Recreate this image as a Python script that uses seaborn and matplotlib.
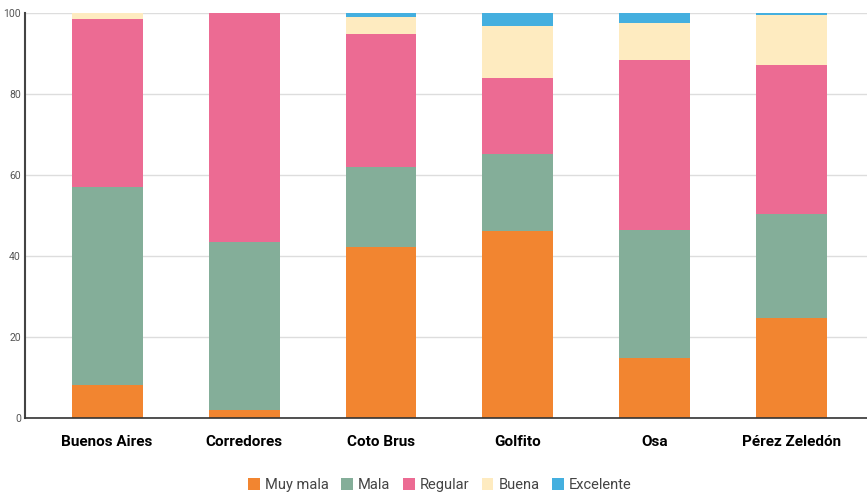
import numpy as np
import pandas as pd
import seaborn as sns
import matplotlib.pyplot as plt
from matplotlib.patches import Patch

# Values (percent per canton)
cantones = ["Buenos Aires", "Corredores", "Coto Brus", "Golfito", "Osa", "Pérez Zeledón"]
muy_mala = [8.1, 2.0, 42.2, 46.2, 14.9, 24.8]
mala = [48.9, 41.5, 19.8, 19.1, 31.6, 25.6]
regular = [41.5, 56.5, 32.8, 18.7, 41.9, 36.8]
buena = [1.5, 0.0, 4.2, 12.8, 9.1, 12.3]
excelente = [0.0, 0.0, 1.0, 3.2, 2.5, 0.5]

series_names = ["Muy mala", "Mala", "Regular", "Buena", "Excelente"]
series_vals = [muy_mala, mala, regular, buena, excelente]
colors = ["#F28530", "#84AE99", "#EC6B93", "#FEEBC0", "#44AFDF"]

sns.set_theme(style="white")
plt.rcParams["font.family"] = ["Roboto", "DejaVu Sans"]

# cumulative tops, drawn from the top layer down so each bar covers the one below
cum = np.cumsum(np.array(series_vals), axis=0)

fig = plt.figure(figsize=(8.67, 4.95), dpi=100)
ax = fig.add_axes([25 / 867, 1 - 418 / 495, 1 - 25 / 867, (418 - 13) / 495])

for i in range(len(series_names) - 1, -1, -1):
    df = pd.DataFrame({"canton": cantones, "valor": cum[i]})
    sns.barplot(data=df, x="canton", y="valor", color=colors[i], width=0.518,
                saturation=1, ax=ax, zorder=2, edgecolor="none", linewidth=0)

ax.set_xlim(-0.6, 5.55)
ax.set_ylim(0, 100)
ax.set_yticks([0, 20, 40, 60, 80, 100])
ax.yaxis.grid(True, color="#dddddd", linewidth=1, zorder=0)
ax.set_axisbelow(True)
ax.set_xlabel("")
ax.set_ylabel("")

for s in ["top", "right"]:
    ax.spines[s].set_visible(False)
ax.spines["left"].set_color("#444444")
ax.spines["left"].set_linewidth(1.5)
ax.spines["bottom"].set_color("#333333")
ax.spines["bottom"].set_linewidth(1.2)

ax.tick_params(axis="y", length=0, labelsize=7.5, labelcolor="#555555", pad=3)
ax.tick_params(axis="x", length=0, labelsize=11, labelcolor="black", pad=12)
for lbl in ax.get_xticklabels():
    lbl.set_fontweight("bold")

handles = [Patch(facecolor=c, edgecolor="none", label=n) for n, c in zip(series_names, colors)]
fig.legend(handles=handles, loc="center", bbox_to_anchor=(440 / 867, 1 - 485 / 495),
           ncol=5, frameon=False, fontsize=10.5, handlelength=0.8, handleheight=0.8,
           handletextpad=0.35, columnspacing=0.85, labelcolor="#444444")

fig.savefig("out.png", dpi=100)
